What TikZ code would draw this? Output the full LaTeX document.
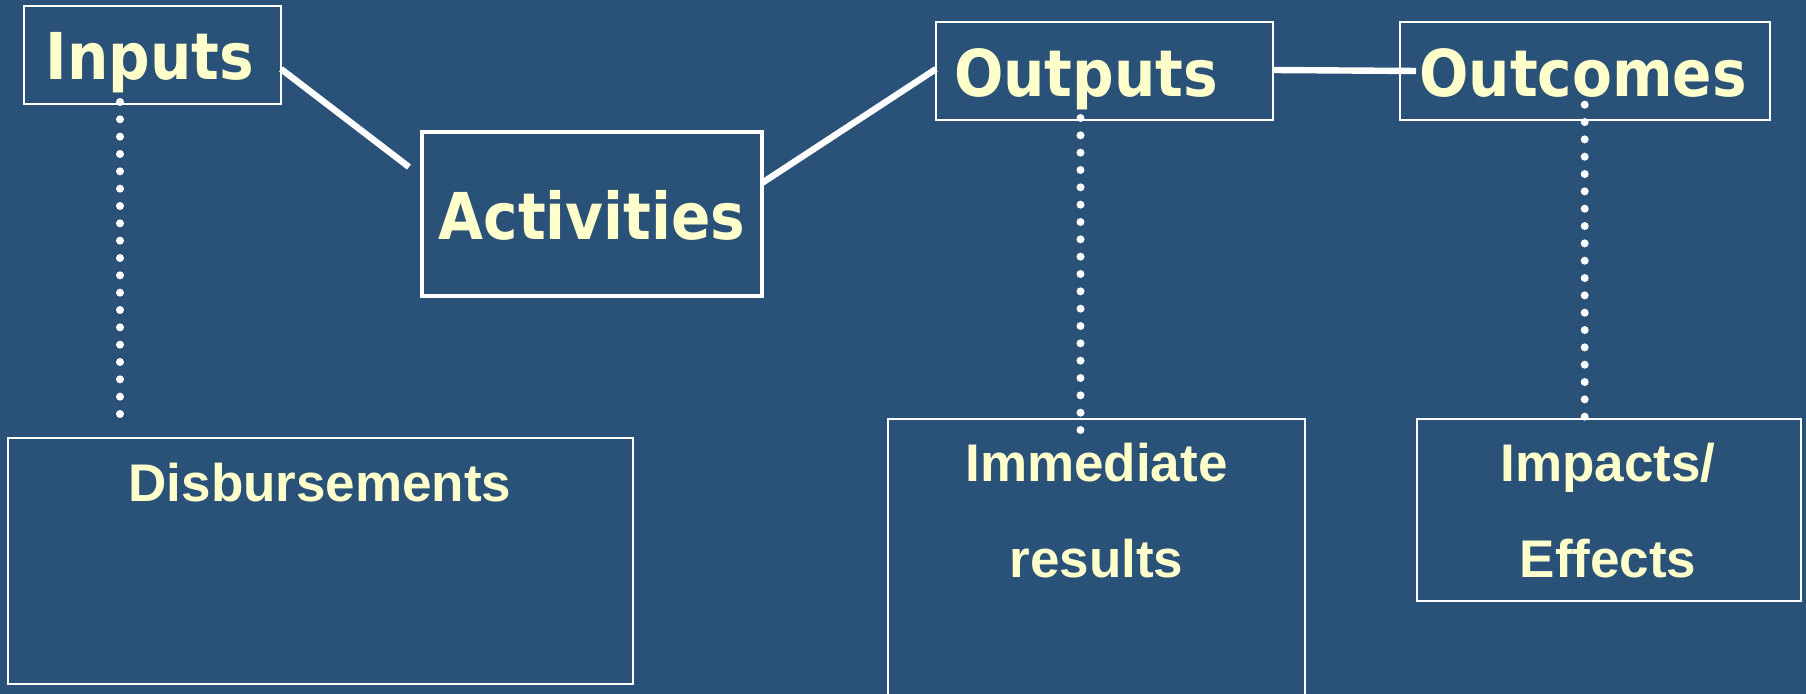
\documentclass[tikz,border=0pt]{standalone}
\usepackage{fontspec}
\usetikzlibrary{calc}
\newfontfamily\headfont[FakeStretch=0.9]{DejaVu Sans}
\newfontfamily\bodyfont{Liberation Sans}
\definecolor{bgblue}{RGB}{42,81,120}
\definecolor{labelyellow}{RGB}{255,255,204}
\begin{document}
\begin{tikzpicture}[x=0.5pt,y=-0.5pt,
  box/.style={draw=white, line width=1pt, inner sep=0pt, outer sep=0pt},
  thickbox/.style={box, line width=2.25pt},
  head/.style={text=labelyellow, inner sep=0pt, anchor=base,
    font=\headfont\bfseries\fontsize{32.3pt}{38pt}\selectfont},
  body/.style={text=labelyellow, inner sep=0pt, align=center,
    font=\bodyfont\bfseries\fontsize{26.5pt}{48.15pt}\selectfont},
  link/.style={draw=white, line width=3.2pt},
  dots/.style={draw=white, line width=4pt, line cap=round,
    dash pattern=on 0pt off 8.667pt}]
\useasboundingbox (0,0) rectangle (1806,694);
\clip (0,0) rectangle (1806,694);
\fill[bgblue] (0,0) rectangle (1806,694);

% boxes of the chain
\node[box, minimum width=128.5pt, minimum height=49pt] (inputs) at (152.5,55) {};
\node[thickbox, minimum width=170pt, minimum height=82pt] (activities) at (592,214) {};
\node[box, minimum width=168.5pt, minimum height=49pt] (outputs) at (1104.5,71) {};
\node[box, minimum width=185pt, minimum height=49pt] (outcomes) at (1585,71) {};

% boxes of the description row
\node[box, minimum width=312.5pt, minimum height=123pt] (disb) at (320.5,561) {};
\node[box, minimum width=208.5pt, minimum height=150.5pt] (immediate) at (1096.5,569.5) {};
\node[box, minimum width=192.25pt, minimum height=91pt] (impacts) at (1608.75,510) {};

% labels
\node[head] (inputs-t) at (150,80) {Inputs};
\node[head] (activities-t) at (592,239.3) {Activities};
\node[head] (outputs-t) at (1086,96.7) {Outputs};
\node[head] (outcomes-t) at (1583,96.7) {Outcomes};
\node[body, anchor=base] (disb-t) at (320,501.7) {Disbursements};
\node[body] (immediate-t) at (1096.5,510.5) {Immediate\\results};
\node[body] (impacts-t) at (1608,510.5) {Impacts/\\Effects};

% solid links along the chain
\draw[link] ($(inputs.east)+(0,14)$) -- ($(activities.west)+(-13,-47)$);
\draw[link] ($(activities.east)+(0,-31)$) -- ($(outputs.west)+(0,-2)$);
\draw[link] ($(outputs.east)+(0,-1)$) -- ($(outcomes.west)+(16,0)$);

% dotted links down to the descriptions
\draw[dots] ($(inputs.south west)+(96,-2)$) -- ($(disb.north west)+(112,-21)$);
\draw[dots] ($(outputs.south west)+(144.5,-2)$) -- ($(immediate.north west)+(192.5,14)$);
\draw[dots] ($(outcomes.south west)+(184.7,-15.3)$) -- ($(impacts.north west)+(168.2,1)$);
\end{tikzpicture}
\end{document}
